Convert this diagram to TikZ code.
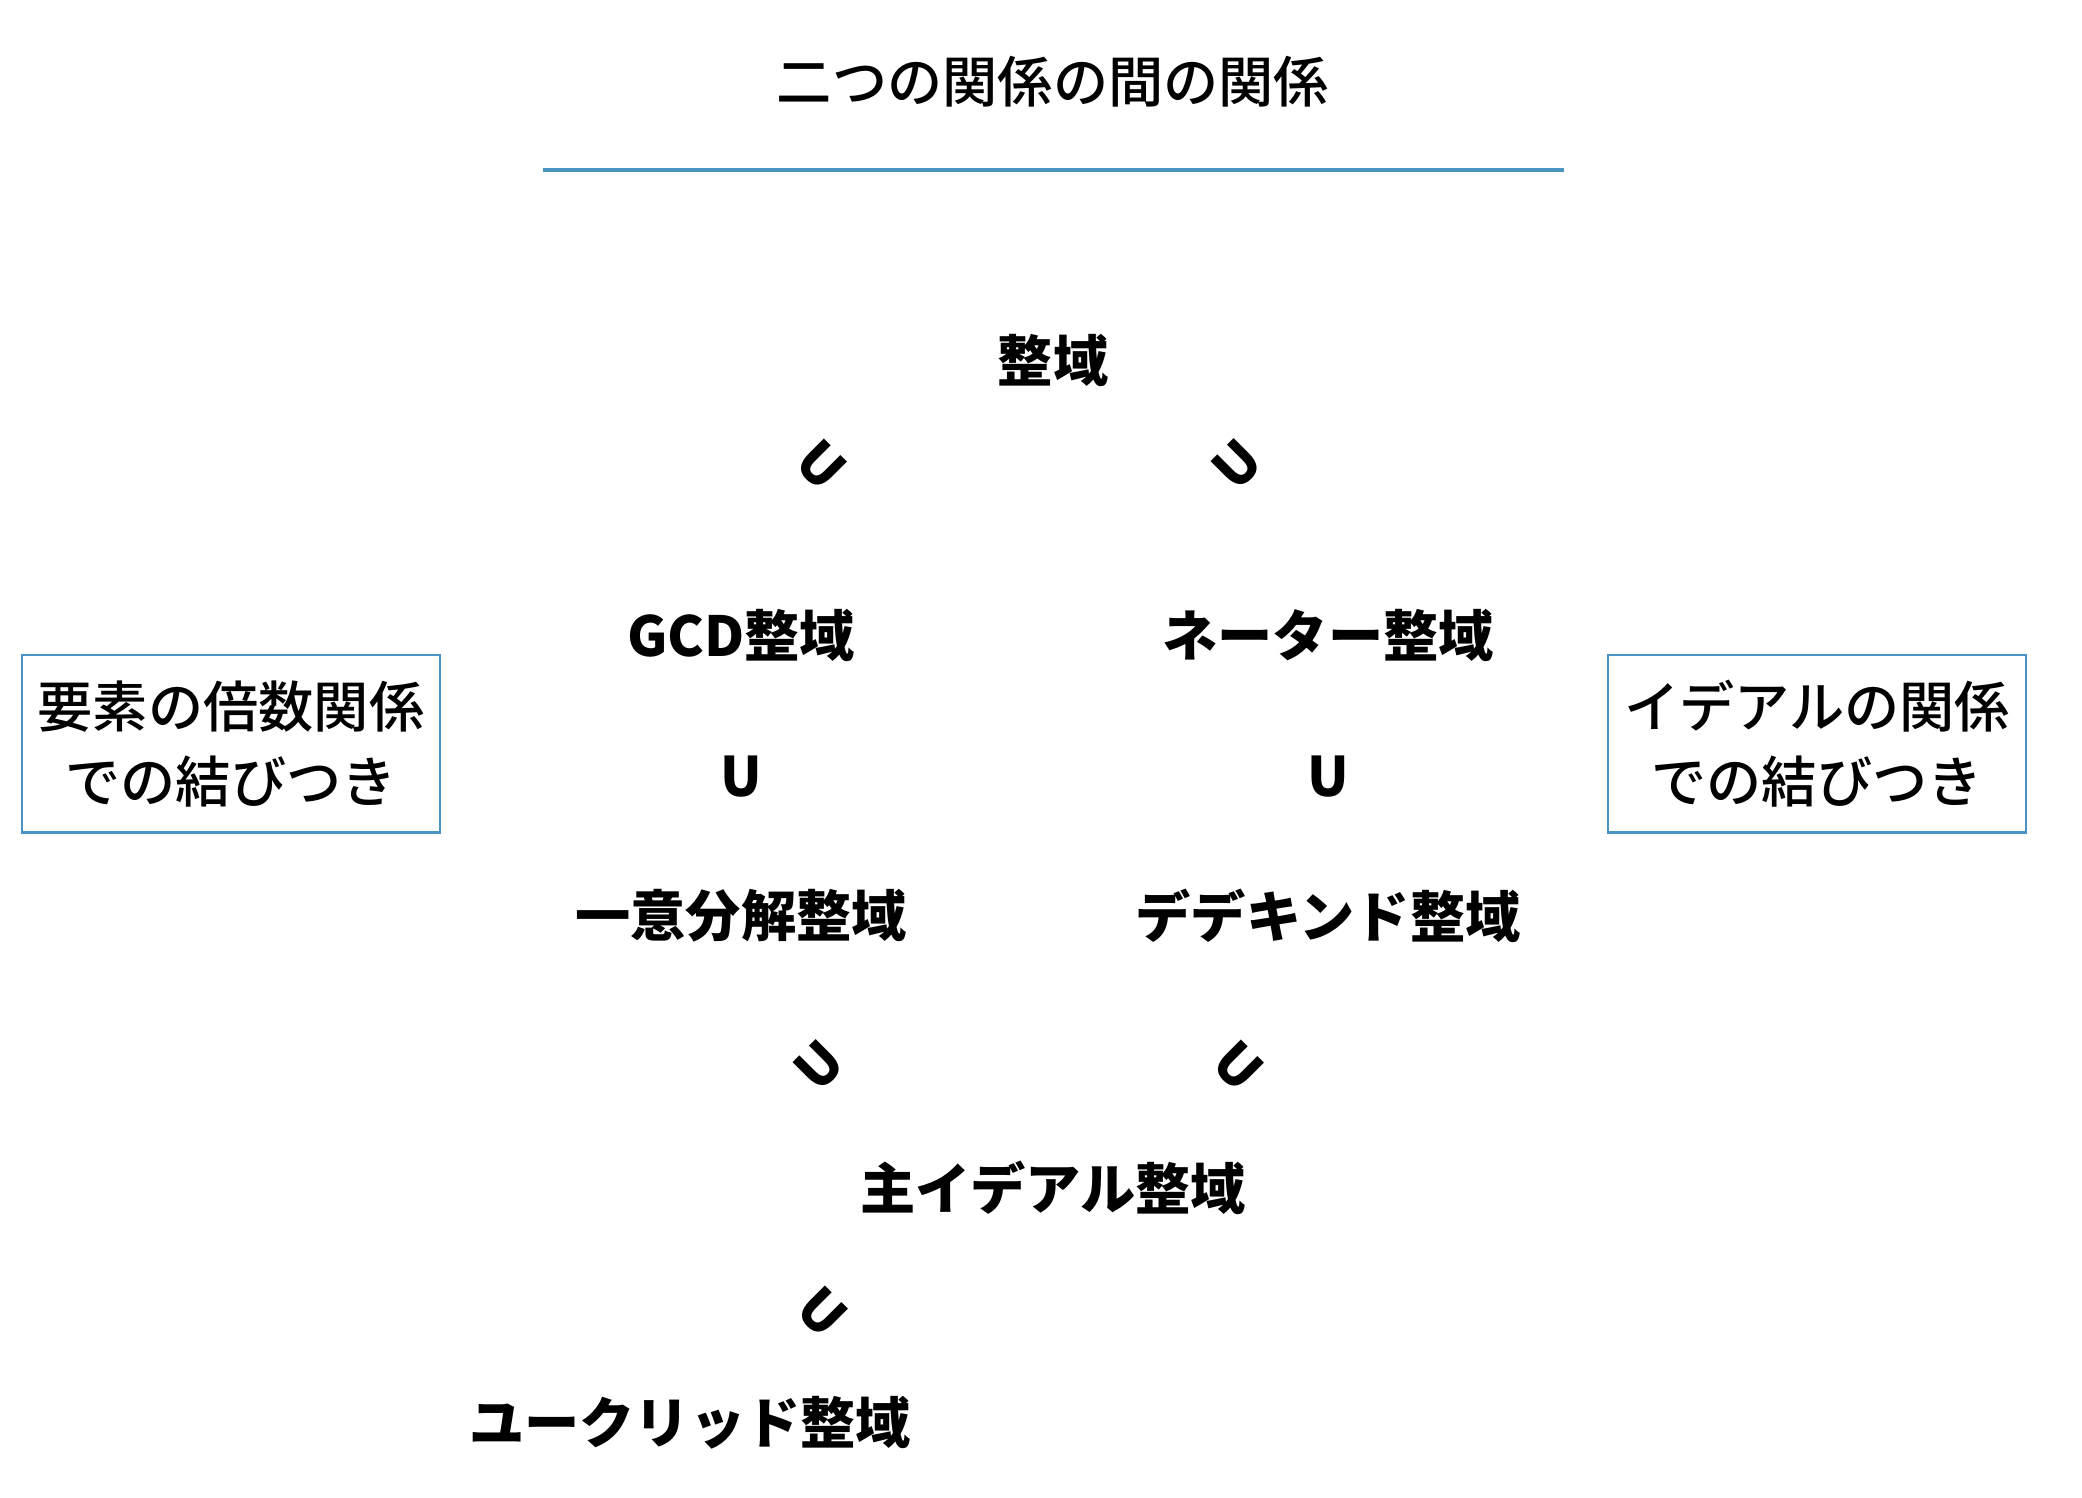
\documentclass[tikz,border=0pt]{standalone}
\usepackage{fontspec}
\setmainfont{Noto Sans CJK JP}
\newfontfamily\jpmedium{Noto Sans CJK JP}[UprightFont={* Medium}]
\usetikzlibrary{positioning}
\definecolor{ruleblue}{HTML}{4A93C3}

\begin{document}
\begin{tikzpicture}[
    x=0.01cm, y=-0.01cm,
    ring/.style={font=\fontsize{15.7}{19}\selectfont\bfseries, inner sep=0pt},
    incl/.style={font=\fontsize{15.5}{18}\selectfont\bfseries, inner sep=0pt},
    note/.style={rectangle, draw=ruleblue, line width=0.6pt, align=center, minimum width=4.17cm, minimum height=1.77cm, font=\fontsize{15.7}{21.3}\selectfont\jpmedium},
    rulebar/.style={draw=ruleblue, line width=1.2pt}
]
\useasboundingbox (0,0) rectangle (2082,1498);

\node[ring, font=\fontsize{15.7}{19}\selectfont\jpmedium] (title) at (1053,82) {二つの関係の間の関係};
\coordinate (barl) at (543,170);
\coordinate (barr) at (1564,170);
\draw[rulebar] (barl) -- (barr);

\node[ring] (domain) at (1053,361) {整域};
\node[incl, rotate=-45] (incA) at (821,465) {U};
\node[incl, rotate=45] (incB) at (1237,465) {U};

\node[ring] (gcd) at (741,635) {GCD整域};
\node[ring] (noether) at (1328,635) {ネーター整域};
\node[incl] (incC) at (741,777) {U};
\node[incl] (incD) at (1328,777) {U};
\node[ring] (ufd) at (741,916) {一意分解整域};
\node[ring] (dedekind) at (1328,916) {デデキンド整域};

\node[incl, rotate=45] (incE) at (819,1066) {U};
\node[incl, rotate=-45] (incF) at (1238,1066) {U};
\node[ring] (pid) at (1053,1188) {主イデアル整域};
\node[incl, rotate=-45] (incG) at (822,1312) {U};
\node[ring] (euclid) at (690,1423) {ユークリッド整域};

\node[note] (elemnote) at (231,744) {要素の倍数関係\\での結びつき};
\node[note] (idealnote) at (1817,744) {イデアルの関係\\での結びつき};

\end{tikzpicture}
\end{document}
